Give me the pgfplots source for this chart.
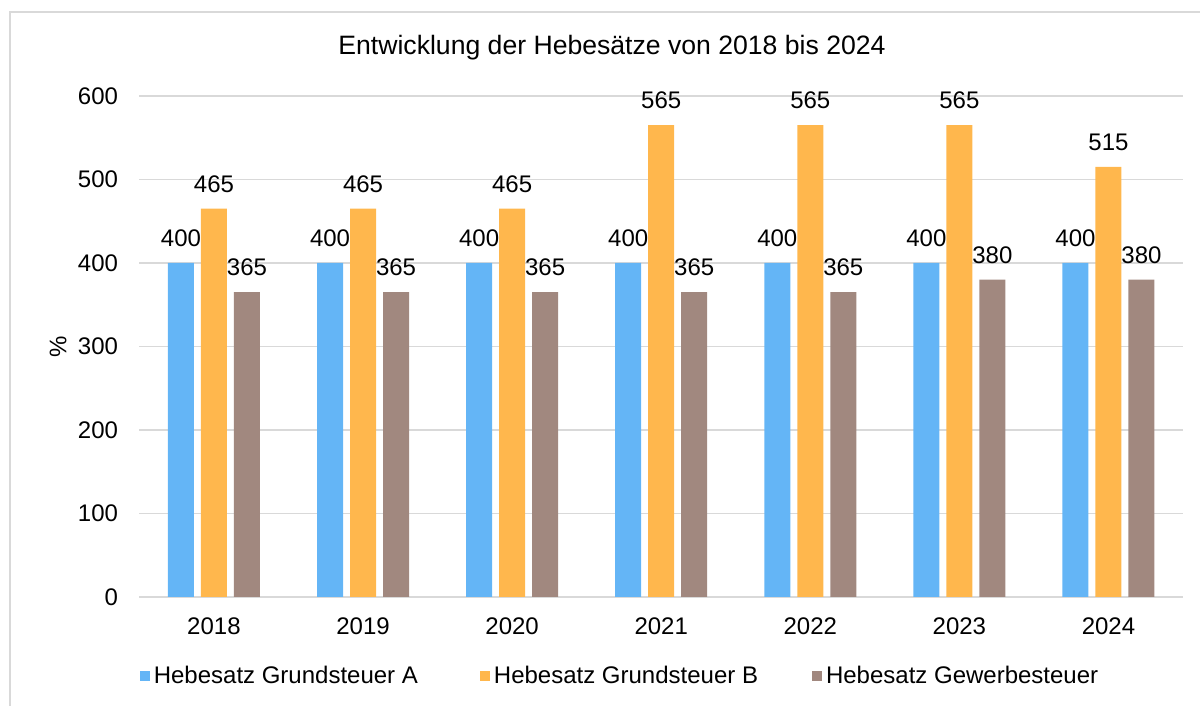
\documentclass[border=0pt]{standalone}
\usepackage{fontspec}
\setmainfont{Liberation Sans}
\usepackage{pgfplots}
\pgfplotsset{compat=1.18}
\definecolor{cA}{HTML}{64B5F6}
\definecolor{cB}{HTML}{FFB74D}
\definecolor{cC}{HTML}{A1887F}
\definecolor{gridc}{HTML}{D9D9D9}
\begin{document}
\fontsize{12}{14}\selectfont
\begin{tikzpicture}
\path[use as bounding box] (0,0) rectangle (600pt,353pt);
\draw[gridc, line width=0.8pt] (5pt,0) -- (5pt,347pt) -- (600pt,347pt);
\node[font=\fontsize{13.3}{15}\selectfont] at (306pt,329pt) {Entwicklung der Hebesätze von 2018 bis 2024};
\node[rotate=90] at (29pt,179.5pt) {\%};
\begin{axis}[
  at={(69.7pt,54.5pt)}, anchor=south west,
  scale only axis, width=521.8pt, height=250.5pt,
  xmin=-0.5, xmax=6.5, ymin=0, ymax=600,
  ybar=3.5pt, bar width=13pt,
  xtick=data, xticklabels={2018,2019,2020,2021,2022,2023,2024},
  ytick={0,100,200,300,400,500,600},
  ymajorgrids, grid style={gridc, line width=0.75pt},
  axis line style={draw=none},
  major tick length=0pt,
  extra y ticks={0}, extra y tick labels={}, extra y tick style={grid style={gridc, line width=1.2pt}},
  /pgf/number format/assume math mode=true,
  tick label style={font=\fontsize{12}{14}\selectfont},
  yticklabel style={anchor=east, inner sep=0pt, xshift=-10.5pt},
  xticklabel style={anchor=north, inner sep=0pt, yshift=-10pt},
  nodes near coords,
  every node near coord/.append style={font=\fontsize{12}{14}\selectfont, black, inner sep=0pt, yshift=8pt, anchor=south},
  legend columns=3,
  legend style={at={(0,-0.158)}, anchor=west, draw=none, inner sep=0pt, font=\fontsize{12}{14}\selectfont,
    /tikz/column 2/.style={column sep=29pt},
    /tikz/column 4/.style={column sep=25pt}},
  legend image code/.code={\fill[#1] (0pt,-2.5pt) rectangle (5pt,2.5pt);},
  enlargelimits=false, clip=false,
]
\addplot[fill=cA, draw=none] coordinates {(0,400) (1,400) (2,400) (3,400) (4,400) (5,400) (6,400)};
\addplot[fill=cB, draw=none] coordinates {(0,465) (1,465) (2,465) (3,565) (4,565) (5,565) (6,515)};
\addplot[fill=cC, draw=none] coordinates {(0,365) (1,365) (2,365) (3,365) (4,365) (5,380) (6,380)};
\legend{Hebesatz Grundsteuer A, Hebesatz Grundsteuer B, Hebesatz Gewerbesteuer}
\end{axis}
\end{tikzpicture}
\end{document}
